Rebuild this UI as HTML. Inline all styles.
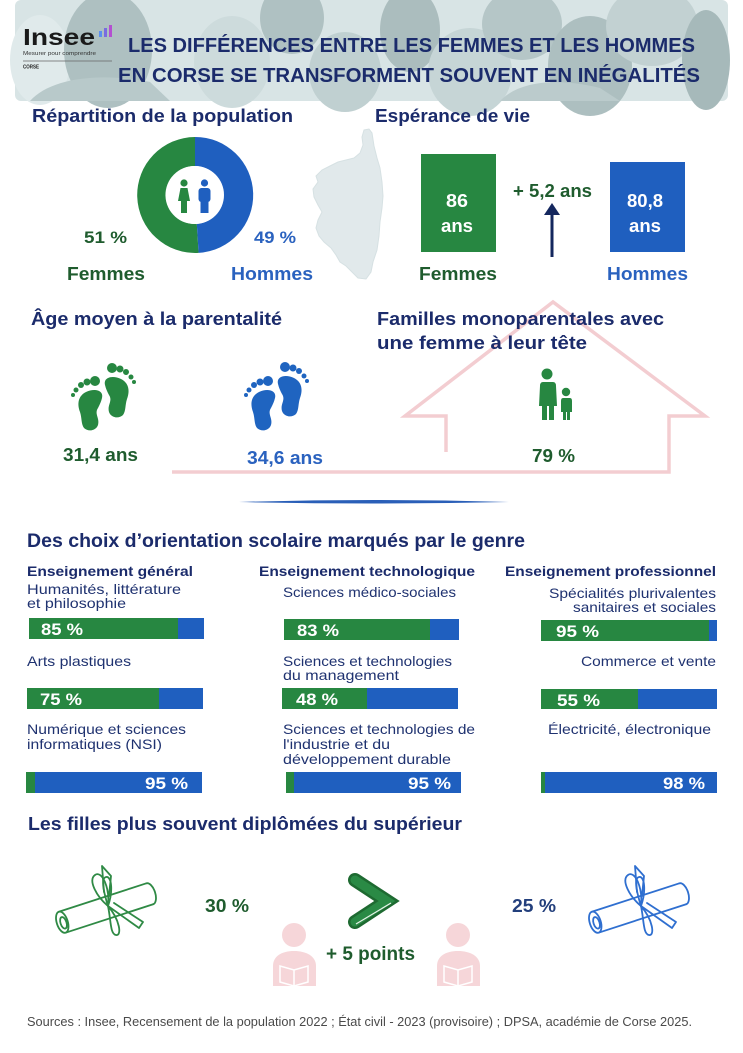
<!DOCTYPE html>
<html><head><meta charset="utf-8"><style>
html,body{margin:0;padding:0;background:#fff;}
svg{display:block;}
</style></head><body>
<svg width="743" height="1053" viewBox="0 0 743 1053" xmlns="http://www.w3.org/2000/svg" font-family="'Liberation Sans', sans-serif">
<rect width="743" height="1053" fill="#fff"/>

<!-- Header banner -->
<g>
<rect x="15" y="0" width="713" height="101" rx="6" fill="#d8e4e5"/>
<ellipse cx="40" cy="60" rx="30" ry="45" fill="#e0eaeb"/>
<ellipse cx="108" cy="50" rx="44" ry="58" fill="#aec0c1"/>
<path d="M30,101 C50,78 100,72 150,82 L170,101 Z" fill="#b8c9ca"/>
<ellipse cx="232" cy="62" rx="38" ry="46" fill="#cddbdc"/>
<ellipse cx="292" cy="18" rx="32" ry="36" fill="#afc1c2"/>
<ellipse cx="345" cy="72" rx="36" ry="40" fill="#c0d0d1"/>
<ellipse cx="410" cy="30" rx="30" ry="42" fill="#abbdbe"/>
<ellipse cx="470" cy="72" rx="42" ry="44" fill="#c6d5d6"/>
<ellipse cx="522" cy="24" rx="40" ry="36" fill="#b5c6c7"/>
<ellipse cx="590" cy="66" rx="42" ry="50" fill="#adbfc0"/>
<ellipse cx="652" cy="26" rx="46" ry="40" fill="#c2d1d2"/>
<ellipse cx="706" cy="60" rx="24" ry="50" fill="#a6b9ba"/>
<path d="M500,101 C520,80 560,78 600,88 L620,101 Z" fill="#bbcbcc"/>
</g>
<!-- logo -->
<text x="23" y="45" font-size="23" font-weight="bold" fill="#1a1a1a" textLength="72" lengthAdjust="spacingAndGlyphs">Insee</text>
<rect x="99" y="31" width="3" height="6" fill="#5b8ef0"/>
<rect x="104" y="28" width="3" height="9" fill="#7a6be0"/>
<rect x="109" y="25" width="3" height="12" fill="#b44fd1"/>
<text x="23" y="55" font-size="5.5" fill="#333" textLength="73" lengthAdjust="spacingAndGlyphs">Mesurer pour comprendre</text>
<line x1="23" y1="61" x2="112" y2="61" stroke="#666" stroke-width="0.8"/>
<text x="23" y="68.5" font-size="5.5" font-weight="bold" fill="#222" textLength="16" lengthAdjust="spacingAndGlyphs">CORSE</text>
<!-- title -->
<text x="128" y="52" font-size="20" font-weight="bold" fill="#1b2b6b" textLength="567" lengthAdjust="spacingAndGlyphs">LES DIFFÉRENCES ENTRE LES  FEMMES ET LES HOMMES</text>
<text x="118" y="82" font-size="20.5" font-weight="bold" fill="#1b2b6b" textLength="582" lengthAdjust="spacingAndGlyphs">EN CORSE SE TRANSFORMENT SOUVENT EN INÉGALITÉS</text>

<!-- Corsica map -->
<path d="M364,130 L369,129 L372,133 L374,146 L377,158 L380,168 L382,182 L383,196 L382,208 L380,222 L379,236 L377,250 L373,262 L371,272 L366,279 L358,278 L352,272 L346,266 L340,262 L336,255 L331,248 L324,242 L319,236 L316,228 L318,220 L322,212 L318,205 L314,197 L313,189 L318,182 L316,176 L322,170 L330,166 L338,162 L346,160 L354,158 L360,153 L363,145 L362,137 Z" fill="#e1e9eb" stroke="#d6e1e3" stroke-width="1"/>

<!-- Section 1 -->
<text x="32" y="122" font-size="18" font-weight="bold" fill="#1b2b6b" textLength="261" lengthAdjust="spacingAndGlyphs">Répartition de la population</text>
<path d="M198.6,252.9 A58,58 0 1 1 195,137 L195,166 A29,29 0 1 0 196.8,223.9 Z" fill="#278741"/>
<path d="M195,137 A58,58 0 0 1 198.6,252.9 L196.8,223.9 A29,29 0 0 0 195,166 Z" fill="#1f5fbf"/>
<circle cx="195" cy="195" r="29" fill="#fff"/>
<!-- woman -->
<circle cx="184" cy="183" r="3.6" fill="#278741"/>
<path d="M180.5,188 h7 l2.5,13 h-3 v12 h-6 v-12 h-3 z" fill="#278741"/>
<!-- man -->
<circle cx="204.5" cy="183" r="3.6" fill="#1f5fbf"/>
<rect x="198.5" y="188" width="12" height="14" rx="3" fill="#1f5fbf"/>
<rect x="200.5" y="199" width="8" height="14" fill="#1f5fbf"/>
<text x="84" y="243" font-size="17" font-weight="bold" fill="#1f5c2e" textLength="43" lengthAdjust="spacingAndGlyphs">51 %</text>
<text x="254" y="243" font-size="17" font-weight="bold" fill="#2a62bf" textLength="42" lengthAdjust="spacingAndGlyphs">49 %</text>
<text x="67" y="280" font-size="18" font-weight="bold" fill="#1f5c2e" textLength="78" lengthAdjust="spacingAndGlyphs">Femmes</text>
<text x="231" y="280" font-size="18" font-weight="bold" fill="#2a62bf" textLength="82" lengthAdjust="spacingAndGlyphs">Hommes</text>

<!-- Section 2 -->
<text x="375" y="122" font-size="18" font-weight="bold" fill="#1b2b6b" textLength="155" lengthAdjust="spacingAndGlyphs">Espérance de vie</text>
<rect x="421" y="154" width="75" height="98" fill="#278741"/>
<rect x="610" y="162" width="75" height="90" fill="#1f5fbf"/>
<text x="446" y="207" font-size="18" font-weight="bold" fill="#fff" textLength="22" lengthAdjust="spacingAndGlyphs">86</text>
<text x="441" y="232" font-size="18" font-weight="bold" fill="#fff" textLength="32" lengthAdjust="spacingAndGlyphs">ans</text>
<text x="627" y="207" font-size="18" font-weight="bold" fill="#fff" textLength="36" lengthAdjust="spacingAndGlyphs">80,8</text>
<text x="629" y="232" font-size="18" font-weight="bold" fill="#fff" textLength="32" lengthAdjust="spacingAndGlyphs">ans</text>
<text x="513" y="197" font-size="18" font-weight="bold" fill="#1f5c2e" textLength="79" lengthAdjust="spacingAndGlyphs">+ 5,2 ans</text>
<line x1="552" y1="213" x2="552" y2="257" stroke="#14275e" stroke-width="3"/>
<path d="M544,215 L552,203 L560,215 Z" fill="#14275e"/>
<text x="419" y="280" font-size="18" font-weight="bold" fill="#1f5c2e" textLength="78" lengthAdjust="spacingAndGlyphs">Femmes</text>
<text x="607" y="280" font-size="18" font-weight="bold" fill="#2a62bf" textLength="81" lengthAdjust="spacingAndGlyphs">Hommes</text>

<!-- House -->
<path d="M446,452 L446,416 L405,416 L553,302 L705,416 L669,416 L669,472 L172,472" fill="none" stroke="#f3cdd1" stroke-width="3.5" stroke-linejoin="miter"/>

<!-- Section 3 -->
<text x="31" y="325" font-size="18" font-weight="bold" fill="#1b2b6b" textLength="251" lengthAdjust="spacingAndGlyphs">Âge moyen à la parentalité</text>
<text x="377" y="325" font-size="18" font-weight="bold" fill="#1b2b6b" textLength="287" lengthAdjust="spacingAndGlyphs">Familles monoparentales avec</text>
<text x="377" y="349" font-size="18" font-weight="bold" fill="#1b2b6b" textLength="210" lengthAdjust="spacingAndGlyphs">une femme à leur tête</text>

<defs>
<g id="foot">
<path d="M-12,-12 C-14,-20 -4,-22 4,-18 C12,-14 13,-6 10,2 C8,8 9,14 6,18 C2,22 -6,21 -8,15 C-10,8 -4,4 -8,-2 C-10,-6 -11,-8 -12,-12 Z"/>
<circle cx="-5" cy="-29" r="5"/>
<circle cx="3" cy="-28" r="3.5"/>
<circle cx="9" cy="-25" r="3"/>
<circle cx="14" cy="-20" r="2.5"/>
<circle cx="17" cy="-15" r="2"/>
</g>
</defs>
<g fill="#278741">
<use href="#foot" transform="translate(117,397)"/>
<use href="#foot" transform="translate(90,410) scale(-1,1)"/>
</g>
<g fill="#1f64c0">
<use href="#foot" transform="translate(290,396)"/>
<use href="#foot" transform="translate(263,410) scale(-1,1)"/>
</g>
<text x="63" y="461" font-size="18" font-weight="bold" fill="#1f5c2e" textLength="75" lengthAdjust="spacingAndGlyphs">31,4 ans</text>
<text x="247" y="464" font-size="18" font-weight="bold" fill="#2a62bf" textLength="76" lengthAdjust="spacingAndGlyphs">34,6 ans</text>
<!-- family icon -->
<g fill="#278741">
<circle cx="547" cy="374" r="5.5"/>
<path d="M541,382 h12 q3,0 3,4 l1,20 h-3 v14 h-5 v-14 h-2 v14 h-5 v-14 h-3 l1,-20 q0,-4 3,-4 z"/>
<circle cx="566" cy="392" r="4.2"/>
<path d="M562,398 h8 q2,0 2,3 v11 h-2 v8 h-3 v-8 h-1 v8 h-3 v-8 h-2 v-11 q0,-3 2,-3 z"/>
</g>
<text x="532" y="462" font-size="18" font-weight="bold" fill="#1f5c2e" textLength="43" lengthAdjust="spacingAndGlyphs">79 %</text>
<path d="M239,502 Q374,498 509,502 Q374,505 239,502 Z" fill="#2a5fb8"/>

<!-- Section 4 -->
<text x="27" y="547" font-size="19" font-weight="bold" fill="#1b2b6b" textLength="498" lengthAdjust="spacingAndGlyphs">Des choix d’orientation scolaire marqués par le genre</text>
<g font-size="14" font-weight="bold" fill="#1b2b6b">
<text x="27" y="576" textLength="166" lengthAdjust="spacingAndGlyphs">Enseignement général</text>
<text x="259" y="576" textLength="216" lengthAdjust="spacingAndGlyphs">Enseignement technologique</text>
<text x="505" y="576" textLength="211" lengthAdjust="spacingAndGlyphs">Enseignement professionnel</text>
</g>
<g font-size="14" fill="#1f3270">
<text x="27" y="594" textLength="154" lengthAdjust="spacingAndGlyphs">Humanités, littérature</text>
<text x="27" y="608" textLength="99" lengthAdjust="spacingAndGlyphs">et philosophie</text>
<text x="27" y="666" textLength="104" lengthAdjust="spacingAndGlyphs">Arts plastiques</text>
<text x="27" y="734" textLength="159" lengthAdjust="spacingAndGlyphs">Numérique et sciences</text>
<text x="27" y="749" textLength="135" lengthAdjust="spacingAndGlyphs">informatiques (NSI)</text>
<text x="283" y="597" textLength="173" lengthAdjust="spacingAndGlyphs">Sciences médico-sociales</text>
<text x="283" y="666" textLength="169" lengthAdjust="spacingAndGlyphs">Sciences et technologies</text>
<text x="283" y="680" textLength="116" lengthAdjust="spacingAndGlyphs">du management</text>
<text x="283" y="734" textLength="192" lengthAdjust="spacingAndGlyphs">Sciences et technologies de</text>
<text x="283" y="749" textLength="107" lengthAdjust="spacingAndGlyphs">l'industrie et du</text>
<text x="283" y="764" textLength="168" lengthAdjust="spacingAndGlyphs">développement durable</text>
<text x="549" y="598" textLength="167" lengthAdjust="spacingAndGlyphs">Spécialités plurivalentes</text>
<text x="573" y="612" textLength="143" lengthAdjust="spacingAndGlyphs">sanitaires et sociales</text>
<text x="581" y="666" textLength="135" lengthAdjust="spacingAndGlyphs">Commerce et vente</text>
<text x="548" y="734" textLength="163" lengthAdjust="spacingAndGlyphs">Électricité, électronique</text>
</g>
<!-- bars -->
<rect x="29" y="618" width="175" height="21" fill="#1f5fbf"/><rect x="29" y="618" width="149" height="21" fill="#278741"/>
<rect x="27" y="688" width="176" height="21" fill="#1f5fbf"/><rect x="27" y="688" width="132" height="21" fill="#278741"/>
<rect x="26" y="772" width="176" height="21" fill="#1f5fbf"/><rect x="26" y="772" width="9" height="21" fill="#278741"/>
<rect x="284" y="619" width="175" height="21" fill="#1f5fbf"/><rect x="284" y="619" width="146" height="21" fill="#278741"/>
<rect x="282" y="688" width="176" height="21" fill="#1f5fbf"/><rect x="282" y="688" width="85" height="21" fill="#278741"/>
<rect x="286" y="772" width="175" height="21" fill="#1f5fbf"/><rect x="286" y="772" width="8" height="21" fill="#278741"/>
<rect x="541" y="620" width="176" height="21" fill="#1f5fbf"/><rect x="541" y="620" width="168" height="21" fill="#278741"/>
<rect x="541" y="689" width="176" height="20" fill="#1f5fbf"/><rect x="541" y="689" width="97" height="20" fill="#278741"/>
<rect x="541" y="772" width="176" height="21" fill="#1f5fbf"/><rect x="541" y="772" width="4" height="21" fill="#278741"/>
<g font-size="17" font-weight="bold" fill="#fff">
<text x="41" y="635" textLength="42" lengthAdjust="spacingAndGlyphs">85 %</text>
<text x="40" y="705" textLength="42" lengthAdjust="spacingAndGlyphs">75 %</text>
<text x="145" y="789" textLength="43" lengthAdjust="spacingAndGlyphs">95 %</text>
<text x="297" y="636" textLength="42" lengthAdjust="spacingAndGlyphs">83 %</text>
<text x="296" y="705" textLength="42" lengthAdjust="spacingAndGlyphs">48 %</text>
<text x="408" y="789" textLength="43" lengthAdjust="spacingAndGlyphs">95 %</text>
<text x="556" y="637" textLength="43" lengthAdjust="spacingAndGlyphs">95 %</text>
<text x="557" y="706" textLength="43" lengthAdjust="spacingAndGlyphs">55 %</text>
<text x="663" y="789" textLength="42" lengthAdjust="spacingAndGlyphs">98 %</text>
</g>

<!-- Section 5 -->
<text x="28" y="830" font-size="18" font-weight="bold" fill="#1b2b6b" textLength="434" lengthAdjust="spacingAndGlyphs">Les filles plus souvent diplômées du supérieur</text>
<defs>
<g id="dip" fill="none" stroke-width="1.8" stroke-linecap="round" stroke-linejoin="round">
<g transform="translate(106,908) rotate(-18)">
<path d="M-46,-11 L46,-11 M-46,11 L46,11"/>
<ellipse cx="-46" cy="0" rx="5.5" ry="11"/>
<ellipse cx="-45" cy="1" rx="3" ry="6"/>
<path d="M46,-11 A5.5,11 0 0 1 46,11"/>
</g>
<path d="M108,906 C96,896 88,880 95,875 C102,870 110,888 108,906"/>
<path d="M108,906 C103,890 101,878 106,877 C112,876 113,892 108,906"/>
<path d="M102,866 L104,892 M102,866 L111,876 L109,896"/>
<path d="M108,906 C111,920 110,934 116,935 C122,936 120,920 108,906"/>
<path d="M108,906 L139,928 L143,922 L114,903"/>
</g>
</defs>
<use href="#dip" stroke="#2f8a45"/>
<use href="#dip" stroke="#2f6fd0" transform="translate(533,0)"/>
<text x="205" y="912" font-size="18" font-weight="bold" fill="#1f5c2e" textLength="44" lengthAdjust="spacingAndGlyphs">30 %</text>
<text x="512" y="912" font-size="18" font-weight="bold" fill="#233f7c" textLength="44" lengthAdjust="spacingAndGlyphs">25 %</text>
<!-- persons -->
<g fill="#f6d6d9">
<circle cx="294" cy="935" r="12"/>
<path d="M273,986 L273,966 C273,956 282,951 294,951 C306,951 316,956 316,966 L316,986 Z"/>
<circle cx="458" cy="935" r="12"/>
<path d="M437,986 L437,966 C437,956 446,951 458,951 C470,951 480,956 480,966 L480,986 Z"/>
</g>
<g fill="none" stroke="#fff" stroke-width="1.5">
<path d="M280,966 L294,970 L308,966 L308,982 L294,986 L280,982 Z M294,970 L294,986"/>
<path d="M444,966 L458,970 L472,966 L472,982 L458,986 L444,982 Z M458,970 L458,986"/>
</g>
<!-- chevron -->
<polyline points="355,880 387,901 355,922" fill="none" stroke="#1e6a31" stroke-width="14" stroke-linejoin="miter" stroke-linecap="round"/>
<polyline points="355,880 387,901 355,922" fill="none" stroke="#2a8a45" stroke-width="9" stroke-linejoin="miter" stroke-linecap="round"/>
<path d="M356,924 L391,903" stroke="#e6f3e8" stroke-width="1.2"/>
<text x="326" y="960" font-size="19" font-weight="bold" fill="#1f5c2e" textLength="89" lengthAdjust="spacingAndGlyphs">+ 5 points</text>

<text x="27" y="1026" font-size="12.5" fill="#4a4a4a" textLength="665" lengthAdjust="spacingAndGlyphs">Sources : Insee, Recensement de la population 2022 ; État civil - 2023  (provisoire) ; DPSA, académie de Corse 2025.</text>
</svg>
</body></html>
